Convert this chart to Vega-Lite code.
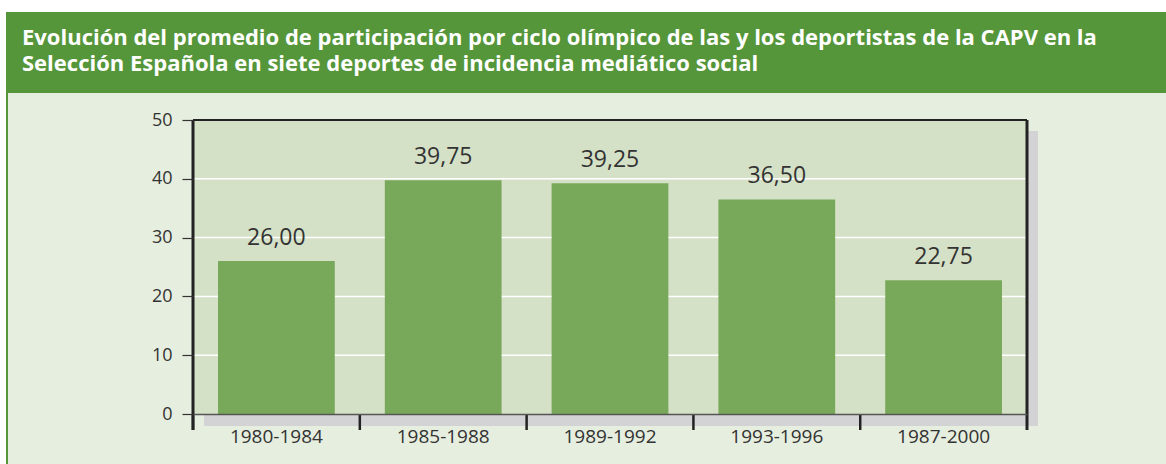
{
  "$schema": "https://vega.github.io/schema/vega-lite/v6.json",
  "width": 834,
  "height": 294,
  "autosize": {"type": "none"},
  "padding": {"left": 193, "top": 120, "right": 139, "bottom": 50},
  "background": "white",
  "config": {
    "view": {"stroke": null},
    "font": "Open Sans",
    "locale": {"number": {"decimal": ",", "thousands": ".", "grouping": [3], "currency": ["", " €"]}}
  },
  "title": {
    "text": [
      "Evolución del promedio de participación por ciclo olímpico de las y los deportistas de la CAPV en la",
      "Selección Española en siete deportes de incidencia mediático social"
    ],
    "anchor": "start",
    "frame": "group",
    "dx": -171,
    "offset": -64,
    "baseline": "top",
    "fontSize": 22,
    "fontWeight": "bold",
    "color": "white",
    "lineHeight": 26.5,
    "font": "Open Sans"
  },
  "datasets": {
    "main": [
      {"periodo": "1980-1984", "valor": 26.0},
      {"periodo": "1985-1988", "valor": 39.75},
      {"periodo": "1989-1992", "valor": 39.25},
      {"periodo": "1993-1996", "valor": 36.5},
      {"periodo": "1987-2000", "valor": 22.75}
    ],
    "grid": [{"g": 10}, {"g": 20}, {"g": 30}, {"g": 40}],
    "one": [{}]
  },
  "layer": [
    {
      "data": {"name": "one"},
      "mark": {"type": "rect", "color": "#55963a"},
      "encoding": {"x": {"value": -187}, "x2": {"value": 973}, "y": {"value": -108}, "y2": {"value": 344}}
    },
    {
      "data": {"name": "one"},
      "mark": {"type": "rect", "color": "#e6eedf"},
      "encoding": {"x": {"value": -185}, "x2": {"value": 973}, "y": {"value": -27}, "y2": {"value": 344}}
    },
    {
      "data": {"name": "one"},
      "mark": {"type": "rect", "color": "#d3d3d5"},
      "encoding": {"x": {"value": 11}, "x2": {"value": 845}, "y": {"value": 11}, "y2": {"value": 306}}
    },
    {
      "data": {"name": "one"},
      "mark": {"type": "rect", "color": "#d5e1c7"},
      "encoding": {"x": {"value": 0}, "x2": {"value": 834}, "y": {"value": 0}, "y2": {"value": 294}}
    },
    {
      "data": {"name": "grid"},
      "mark": {"type": "rule", "color": "white", "strokeWidth": 1.5},
      "encoding": {
        "y": {
          "field": "g", "type": "quantitative",
          "scale": {"domain": [0, 50], "nice": false},
          "axis": {
            "title": null, "values": [0, 10, 20, 30, 40, 50], "grid": false, "domain": false,
            "tickColor": "#333333", "tickSize": 11, "tickWidth": 1.2,
            "labelFontSize": 18, "labelColor": "#333333", "labelPadding": 10,
            "labelFont": "Open Sans", "zindex": 1
          }
        }
      }
    },
    {
      "data": {"name": "main"},
      "mark": {"type": "bar", "color": "#78a85a"},
      "encoding": {
        "x": {
          "field": "periodo", "type": "nominal", "sort": null,
          "scale": {"paddingInner": 0.3, "paddingOuter": 0.15},
          "axis": {
            "title": null, "ticks": false, "tickSize": 0, "labelAngle": 0,
            "domainColor": "#555555", "domainWidth": 1.5,
            "labelFontSize": 19, "labelColor": "#333333", "labelPadding": 13,
            "labelFont": "Open Sans", "zindex": 1
          }
        },
        "y": {"field": "valor", "type": "quantitative"}
      }
    },
    {
      "data": {"name": "main"},
      "mark": {"type": "text", "fontSize": 23, "color": "#333333", "baseline": "alphabetic", "dy": -16, "font": "Open Sans"},
      "encoding": {
        "x": {"field": "periodo", "type": "nominal", "sort": null},
        "y": {"field": "valor", "type": "quantitative"},
        "text": {"field": "valor", "type": "quantitative", "format": ".2f"}
      }
    },
    {
      "data": {"name": "main"},
      "mark": {"type": "rule", "color": "#222222", "strokeWidth": 2.5, "xOffset": -25},
      "encoding": {
        "x": {"field": "periodo", "type": "nominal", "sort": null, "bandPosition": 0},
        "y": {"value": 294},
        "y2": {"value": 310}
      }
    },
    {
      "data": {"name": "one"},
      "mark": {"type": "rule", "color": "#222222", "strokeWidth": 3},
      "encoding": {"x": {"value": 0}, "y": {"value": 0}, "y2": {"value": 310}}
    },
    {
      "data": {"name": "one"},
      "mark": {"type": "rule", "color": "#222222", "strokeWidth": 3},
      "encoding": {"x": {"value": 834}, "y": {"value": 0}, "y2": {"value": 310}}
    },
    {
      "data": {"name": "one"},
      "mark": {"type": "rule", "color": "#222222", "strokeWidth": 2},
      "encoding": {"y": {"value": 0}, "x": {"value": 0}, "x2": {"value": 834}}
    }
  ]
}
